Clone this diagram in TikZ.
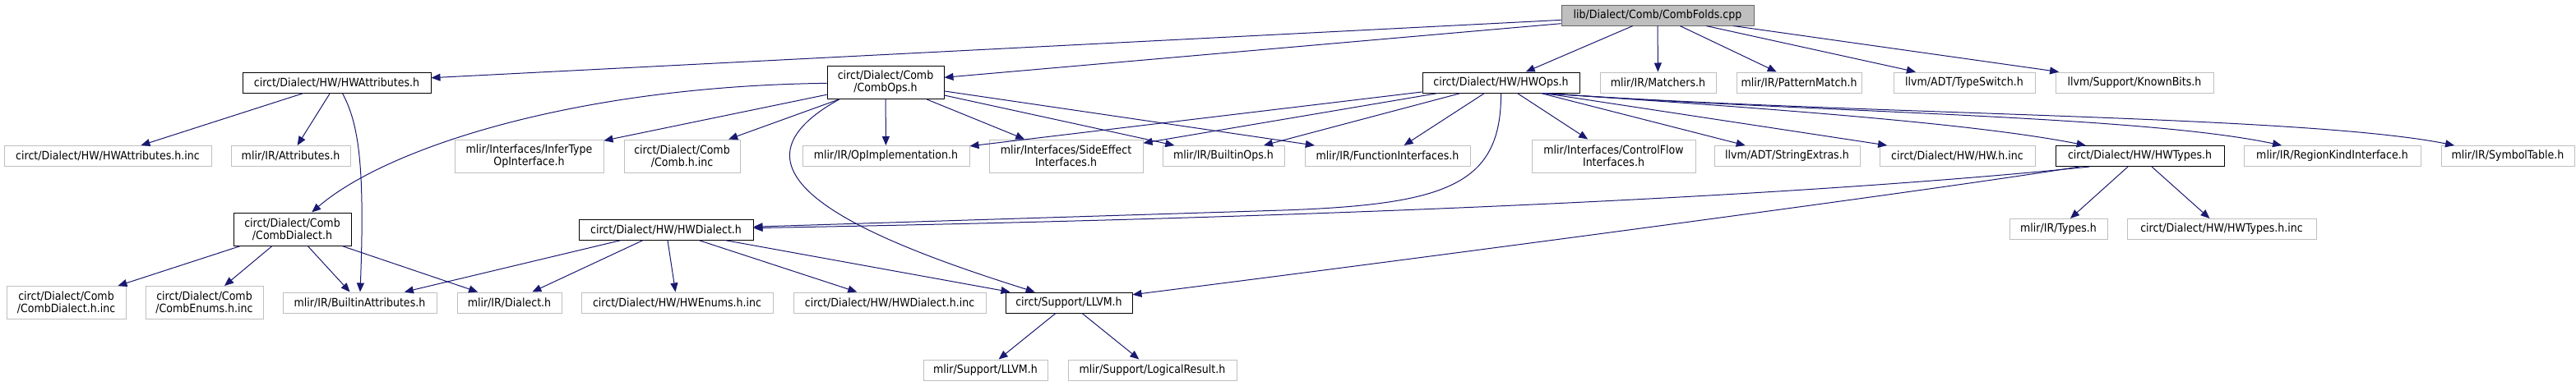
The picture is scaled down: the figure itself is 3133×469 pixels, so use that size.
\documentclass[tikz,border=0pt]{standalone}
\usepackage{fontspec}
\setmainfont{DejaVu Sans Condensed}
\usepackage{tikz}
\usetikzlibrary{arrows.meta}

\definecolor{edgeblue}{HTML}{191970}
\definecolor{grey75}{HTML}{BFBFBF}
\definecolor{grey40}{HTML}{666666}

\begin{document}
\begin{tikzpicture}[
    x=1pt, y=-1pt,
    filebox/.style={rectangle, draw=grey75, line width=1pt, fill=white, minimum height=25pt, inner sep=0pt, align=center, font=\fontsize{14}{15}\selectfont},
    docbox/.style={filebox, draw=black},
    rootbox/.style={filebox, draw=grey40, fill=grey75},
    twoline/.style={minimum height=40pt},
    dep/.style={draw=edgeblue, line width=1pt, -{Triangle[length=11pt, width=9pt]}}
]
    \useasboundingbox (0,0) rectangle (3133,469);

    % top
    \node[rootbox, minimum width=234pt] (fold) at (2016,18.5) {lib/Dialect/Comb/CombFolds.cpp};

    % second row
    \node[docbox, minimum width=229pt] (hwattr) at (409.5,100.5) {circt/Dialect/HW/HWAttributes.h};
    \node[docbox, twoline, minimum width=142pt] (combops) at (1077,100.5) {circt/Dialect/Comb\\/CombOps.h};
    \node[docbox, minimum width=191pt] (hwops) at (1825.5,100.5) {circt/Dialect/HW/HWOps.h};
    \node[filebox, minimum width=141pt] (matchers) at (2016.5,100.5) {mlir/IR/Matchers.h};
    \node[filebox, minimum width=152pt] (patmatch) at (2188,100.5) {mlir/IR/PatternMatch.h};
    \node[filebox, minimum width=172pt] (typeswitch) at (2389,100.5) {llvm/ADT/TypeSwitch.h};
    \node[filebox, minimum width=192pt] (knownbits) at (2596,100.5) {llvm/Support/KnownBits.h};

    % third row
    \node[filebox, minimum width=252pt] (hwattrinc) at (131,190) {circt/Dialect/HW/HWAttributes.h.inc};
    \node[filebox, minimum width=145pt] (attributes) at (353.5,190) {mlir/IR/Attributes.h};
    \node[filebox, twoline, minimum width=181pt] (infertype) at (643.5,190) {mlir/Interfaces/InferType\\OpInterface.h};
    \node[filebox, twoline, minimum width=141pt] (combinc) at (829.5,190) {circt/Dialect/Comb\\/Comb.h.inc};
    \node[filebox, minimum width=203pt] (opimpl) at (1077.5,190) {mlir/IR/OpImplementation.h};
    \node[filebox, twoline, minimum width=187pt] (sideeffect) at (1296.5,190) {mlir/Interfaces/SideEffect\\Interfaces.h};
    \node[filebox, minimum width=148pt] (builtinops) at (1488,190) {mlir/IR/BuiltinOps.h};
    \node[filebox, minimum width=201pt] (funciface) at (1687.5,190) {mlir/IR/FunctionInterfaces.h};
    \node[filebox, twoline, minimum width=199pt] (controlflow) at (1962.5,190) {mlir/Interfaces/ControlFlow\\Interfaces.h};
    \node[filebox, minimum width=177pt] (strext) at (2173.5,190) {llvm/ADT/StringExtras.h};
    \node[filebox, minimum width=189pt] (hwinc) at (2380.5,190) {circt/Dialect/HW/HW.h.inc};
    \node[docbox, minimum width=205pt] (hwtypes) at (2602.5,190) {circt/Dialect/HW/HWTypes.h};
    \node[filebox, minimum width=215pt] (regionkind) at (2836.5,190) {mlir/IR/RegionKindInterface.h};
    \node[filebox, minimum width=162pt] (symtable) at (3050,190) {mlir/IR/SymbolTable.h};

    % fourth row
    \node[docbox, twoline, minimum width=143pt] (combdialect) at (355.5,279) {circt/Dialect/Comb\\/CombDialect.h};
    \node[docbox, minimum width=212pt] (hwdialect) at (810,279.5) {circt/Dialect/HW/HWDialect.h};
    \node[filebox, minimum width=119pt] (types) at (2503.5,279) {mlir/IR/Types.h};
    \node[filebox, minimum width=230pt] (hwtypesinc) at (2702,279) {circt/Dialect/HW/HWTypes.h.inc};

    % fifth row
    \node[filebox, twoline, minimum width=145pt] (combdialinc) at (80.5,368.5) {circt/Dialect/Comb\\/CombDialect.h.inc};
    \node[filebox, twoline, minimum width=143pt] (combenums) at (248.5,368.5) {circt/Dialect/Comb\\/CombEnums.h.inc};
    \node[filebox, minimum width=187pt] (builtinattr) at (437.5,368.5) {mlir/IR/BuiltinAttributes.h};
    \node[filebox, minimum width=127pt] (dialect) at (619.5,368.5) {mlir/IR/Dialect.h};
    \node[filebox, minimum width=233pt] (hwenums) at (823.5,368.5) {circt/Dialect/HW/HWEnums.h.inc};
    \node[filebox, minimum width=234pt] (hwdialinc) at (1082,368.5) {circt/Dialect/HW/HWDialect.h.inc};
    \node[docbox, minimum width=154pt] (circtllvm) at (1300,368.5) {circt/Support/LLVM.h};

    % bottom
    \node[filebox, minimum width=151pt] (mlirllvm) at (1198.5,450.5) {mlir/Support/LLVM.h};
    \node[filebox, minimum width=205pt] (logres) at (1401.5,450.5) {mlir/Support/LogicalResult.h};

    % includes of CombFolds.cpp
    \draw[dep] (fold) -- (hwattr);
    \draw[dep] (fold) -- (combops);
    \draw[dep] (fold) -- (hwops);
    \draw[dep] (fold) -- (matchers);
    \draw[dep] (fold) -- (patmatch);
    \draw[dep] (fold) -- (typeswitch);
    \draw[dep] (fold) -- (knownbits);

    % HWAttributes.h
    \draw[dep] (hwattr) -- (hwattrinc);
    \draw[dep] (hwattr) -- (attributes);
    \draw[dep] (hwattr) .. controls (436,150) and (444,200) .. (builtinattr);

    % CombOps.h
    \draw[dep] (combops) .. controls (700,105) and (470,180) .. (combdialect);
    \draw[dep] (combops) -- (infertype);
    \draw[dep] (combops) -- (combinc);
    \draw[dep] (combops) -- (opimpl);
    \draw[dep] (combops) -- (sideeffect);
    \draw[dep] (combops) -- (builtinops);
    \draw[dep] (combops) -- (funciface);
    \draw[dep] (combops.200) .. controls (860,210) and (1050,290) .. (circtllvm);

    % HWOps.h
    \draw[dep] (hwops) -- (opimpl);
    \draw[dep] (hwops) -- (sideeffect);
    \draw[dep] (hwops) -- (builtinops);
    \draw[dep] (hwops) -- (funciface);
    \draw[dep] (hwops) .. controls (1826,225) and (1760,249) .. (1560,256) -- (hwdialect);
    \draw[dep] (hwops) -- (controlflow);
    \draw[dep] (hwops.-15) -- (strext);
    \draw[dep] (hwops.-14) -- (hwinc);
    \draw[dep] (hwops.-14) .. controls (2150,132) and (2400,150) .. (hwtypes);
    \draw[dep] (hwops.-14) .. controls (2200,137) and (2600,140) .. (regionkind);
    \draw[dep] (hwops.-14) .. controls (2250,140) and (2800,140) .. (symtable);

    % HWTypes.h
    \draw[dep] (hwtypes.192) .. controls (2300,228) and (1800,262) .. (hwdialect);
    \draw[dep] (hwtypes.190) .. controls (2350,232) and (1700,318) .. (circtllvm);
    \draw[dep] (hwtypes) -- (types);
    \draw[dep] (hwtypes) -- (hwtypesinc);

    % CombDialect.h
    \draw[dep] (combdialect) -- (combdialinc);
    \draw[dep] (combdialect) -- (combenums);
    \draw[dep] (combdialect) -- (builtinattr);
    \draw[dep] (combdialect) -- (dialect);

    % HWDialect.h
    \draw[dep] (hwdialect) -- (builtinattr);
    \draw[dep] (hwdialect) -- (dialect);
    \draw[dep] (hwdialect) -- (hwenums);
    \draw[dep] (hwdialect) -- (hwdialinc);
    \draw[dep] (hwdialect) -- (circtllvm);

    % LLVM.h
    \draw[dep] (circtllvm) -- (mlirllvm);
    \draw[dep] (circtllvm) -- (logres);
\end{tikzpicture}
\end{document}
